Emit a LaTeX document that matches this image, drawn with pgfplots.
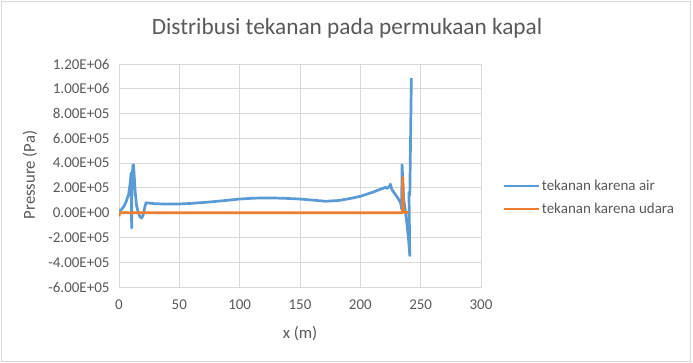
\documentclass[border=0pt]{standalone}
\usepackage{fontspec}
\setmainfont{Carlito}
\usepackage{pgfplots}
\pgfplotsset{compat=1.18}
\definecolor{xblue}{HTML}{5B9BD5}
\definecolor{xorange}{HTML}{ED7D31}
\definecolor{xgrid}{HTML}{D9D9D9}
\definecolor{xtext}{HTML}{595959}
\begin{document}
\begin{tikzpicture}[x=1pt,y=1pt]
\useasboundingbox (0,0) rectangle (693,363);
\draw[xgrid, line width=0.8pt] (1,1.5) rectangle (690,361.5);
\node[text=xtext, font=\fontsize{23.3}{28}\selectfont] at (347,335) {Distribusi tekanan pada permukaan kapal};
\node[text=xtext, font=\fontsize{16.7}{20}\selectfont, rotate=90] at (30,188) {Pressure (Pa)};
\node[text=xtext, font=\fontsize{16.7}{20}\selectfont] at (300,29) {x (m)};
\begin{axis}[
  at={(119pt,76pt)}, anchor=south west,
  scale only axis, width=362pt, height=223pt,
  xmin=0, xmax=300, ymin=-600000, ymax=1200000,
  xtick={0,50,100,150,200,250,300},
  ytick={-600000,-400000,-200000,0,200000,400000,600000,800000,1000000,1200000},
  yticklabels={-6.00E+05,-4.00E+05,-2.00E+05,0.00E+00,2.00E+05,4.00E+05,6.00E+05,8.00E+05,1.00E+06,1.20E+06},
  scaled y ticks=false,
  grid=major, major grid style={xgrid, line width=0.8pt},
  axis line style={xgrid, line width=0.8pt},
  tick style={draw=none},
  ticklabel style={font=\fontsize{15}{18}\selectfont, text=xtext},
  yticklabel style={xshift=-6pt},
  xticklabel style={yshift=-9pt},
  /pgf/number format/assume math mode=true,
  legend cell align=left,
  legend image code/.code={\draw[#1] (0pt,0pt) -- (35pt,0pt);},
  legend style={draw=none, fill=none, inner sep=0pt, at={(1.058,0.401)}, anchor=west,
    nodes={inner sep=2pt, font=\fontsize{15}{18}\selectfont, text=xtext}, row sep=7pt},
]
\addplot[xblue, line width=2.7pt, line join=round] coordinates {
(0,10000) (2,25000) (4,50000) (6,90000) (8,150000) (9.3,240000) (10,320000)
(10.5,-124000) (10.8,280000) (11.5,380000) (12,387000) (12.6,300000)
(13.5,160000) (14.5,60000) (16,0) (17.5,-35000) (18.8,-43000) (20,-20000)
(21.5,50000) (22.4,80000) (25,77000) (30,72000) (40,69000) (50,70000)
(60,75000) (75,86000) (90,100000) (100,110000) (112,117000) (125,119000)
(137,116000) (150,110000) (162,100000) (171,92000) (182,98000) (193,117000)
(200,132000) (210,164000) (218,194000) (221,205000) (222,195000) (224,210000)
(225,230000) (226,190000) (228,160000) (231,120000) (233.4,78000) (234.2,30000)
(234.6,387000) (235.2,250000) (236,100000) (237,40000) (238.5,-80000)
(240,-220000) (241,-347000) (240.3,165000) (241,140000) (242.3,1087000)
};
\addlegendentry{tekanan karena air}
\addplot[xorange, line width=2.7pt, line join=round] coordinates {
(0,-30000) (0.5,0) (100,0) (200,0) (235,0) (235.2,285000) (235.6,5000) (239.7,0)
};
\addlegendentry{tekanan karena udara}
\end{axis}
\end{tikzpicture}
\end{document}
